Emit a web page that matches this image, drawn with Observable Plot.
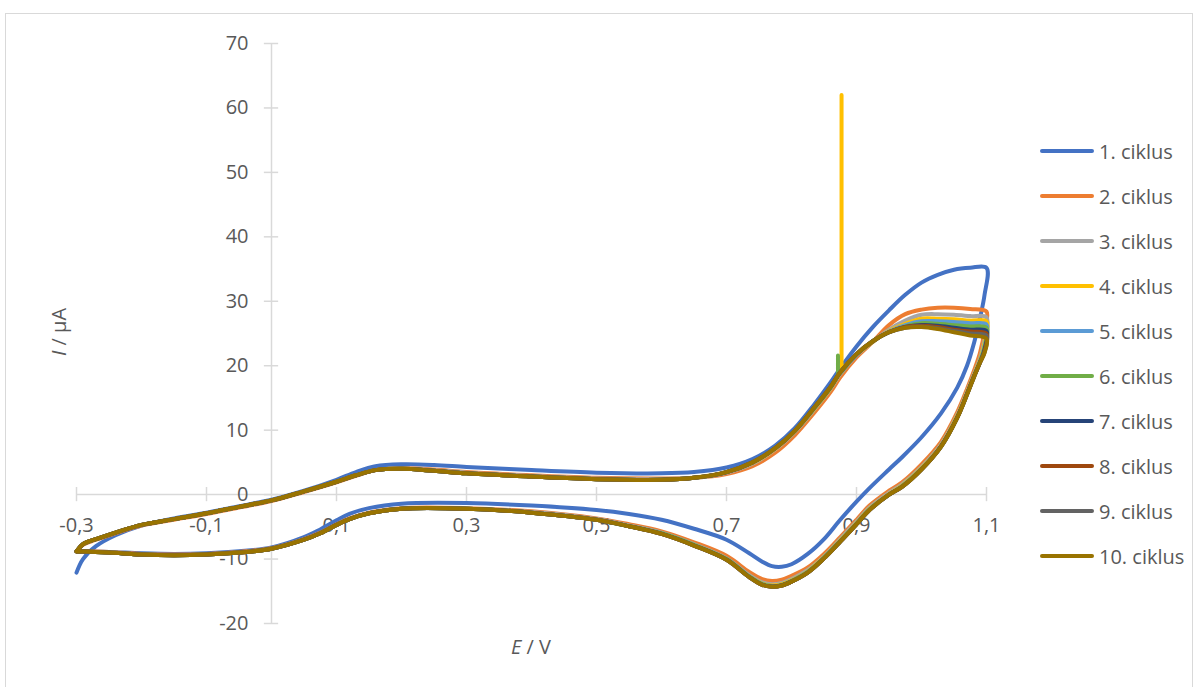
<!DOCTYPE html>
<html><head><meta charset="utf-8">
<script src="https://cdn.jsdelivr.net/npm/d3@7"></script>
<script src="https://cdn.jsdelivr.net/npm/@observablehq/plot@0.6"></script>
<style>
body{margin:0;background:#fff;font-family:"Open Sans",sans-serif;}
#wrap{position:relative;width:1199px;height:687px;overflow:hidden;background:#fff;}
#frame{position:absolute;left:5px;top:13px;width:1188px;height:700px;border:1px solid #d9d9d9;box-sizing:border-box;}
#chart{position:absolute;left:0;top:0;}
#legend{position:absolute;left:1040px;top:136px;}
.item{position:absolute;left:0;height:30px;display:flex;align-items:center;white-space:nowrap;color:#595959;font-size:20px;}
.sw{width:54px;height:3.5px;border-radius:2px;margin-right:5px;}
.ttl{position:absolute;color:#595959;font-size:20px;white-space:nowrap;transform:translate(-50%,-50%);}
</style></head>
<body>
<div id="wrap">
  <div id="frame"></div>
  <div id="chart"></div>
  <div id="legend"></div>
  <div class="ttl" style="left:58px;top:332px;transform:translate(-50%,-50%) rotate(-90deg);"><i>I</i> / µA</div>
  <div class="ttl" style="left:531px;top:646px;"><i>E</i> / V</div>
</div>
<script>
// Potential grid: forward sweep then backward sweep (V)
const forwardE = [-0.3,-0.29,-0.27,-0.24,-0.2,-0.15,-0.1,-0.05,0,0.05,0.1,0.13,0.16,0.2,0.25,0.3,0.4,0.5,0.6,0.65,0.7,0.74,0.775,0.805,0.835,0.86,0.875,0.9,0.925,0.95,0.975,1.0,1.025,1.05,1.075,1.1];
const backwardE = [1.097,1.09,1.081,1.07,1.055,1.03,1.0,0.97,0.95,0.92,0.9,0.875,0.85,0.825,0.8,0.785,0.77,0.755,0.735,0.7,0.65,0.6,0.55,0.5,0.4,0.3,0.2,0.15,0.12,0.1,0.075,0.05,0,-0.05,-0.1,-0.15,-0.2,-0.25,-0.3];

const cycleNames = ["1. ciklus","2. ciklus","3. ciklus","4. ciklus","5. ciklus","6. ciklus","7. ciklus","8. ciklus","9. ciklus","10. ciklus"];
const cycleColors = ["#4472C4","#ED7D31","#A5A5A5","#FFC000","#5B9BD5","#70AD47","#264478","#9E480E","#636363","#997300"];

// Current (µA): forward values then backward values
const c1F = [-12.1,-10.0,-8.0,-6.3,-4.8,-3.7,-2.8,-1.8,-0.8,0.6,2.3,3.5,4.4,4.7,4.6,4.3,3.8,3.4,3.3,3.5,4.2,5.5,7.6,10.3,14.0,17.4,19.6,23.0,26.0,28.6,31.0,32.9,34.1,34.9,35.2,35.2];
const c1B = [31.0,27.4,23.6,20.0,16.6,12.6,8.9,5.8,3.9,1.0,-1.1,-3.9,-6.9,-9.2,-10.8,-11.2,-11.1,-10.4,-9.1,-7.0,-5.3,-3.9,-3.0,-2.4,-1.7,-1.3,-1.4,-2.1,-3.0,-4.0,-5.4,-6.6,-8.2,-8.8,-9.1,-9.2,-9.1,-8.9,-8.8];
const c2F = [-8.8,-7.8,-7.0,-6.0,-4.8,-3.9,-3.0,-2.0,-1.0,0.4,1.9,2.9,3.8,4.1,3.9,3.5,3.0,2.6,2.5,2.6,3.2,4.4,6.5,9.2,12.7,15.9,18.2,21.3,23.7,26.3,28.0,28.7,29.0,29.0,28.8,28.4];
const c2B = [25.5,22.0,19.3,16.4,12.8,8.2,4.7,1.9,0.6,-1.7,-3.9,-6.6,-9.2,-11.3,-12.6,-13.2,-13.4,-13.1,-12.0,-9.5,-7.4,-5.7,-4.6,-3.7,-2.6,-2.1,-2.1,-2.8,-3.7,-4.6,-5.9,-6.9,-8.3,-8.9,-9.2,-9.3,-9.2,-8.9,-8.8];
const c3F = [-8.8,-7.7,-6.9,-5.9,-4.7,-3.8,-2.9,-1.9,-0.9,0.5,2.0,3.0,3.8,4.0,3.8,3.4,2.9,2.5,2.4,2.6,3.4,4.8,7.0,9.7,13.2,16.4,18.7,21.6,23.7,25.6,27.0,27.9,28.0,27.9,27.7,27.5];
const c3B = [24.0,21.2,18.8,16.0,12.4,7.8,4.3,1.6,0.3,-2.0,-4.2,-6.9,-9.6,-11.7,-13.1,-13.7,-13.9,-13.6,-12.5,-9.9,-7.7,-5.9,-4.8,-3.8,-2.7,-2.2,-2.2,-2.9,-3.8,-4.7,-6.0,-7.0,-8.4,-9.0,-9.3,-9.4,-9.3,-9.0,-8.8];
const c4F = [-8.8,-7.7,-6.9,-5.9,-4.7,-3.8,-2.9,-1.9,-0.9,0.5,2.0,3.0,3.8,4.0,3.7,3.3,2.8,2.4,2.3,2.6,3.5,4.9,7.1,9.8,13.3,16.5,18.9,21.7,23.7,25.4,26.5,27.3,27.3,27.2,27.0,26.9];
const c4B = [23.5,20.9,18.6,15.8,12.2,7.6,4.1,1.4,0.1,-2.2,-4.4,-7.1,-9.7,-11.9,-13.3,-13.9,-14.1,-13.8,-12.7,-10.0,-7.8,-6.0,-4.9,-3.9,-2.8,-2.2,-2.2,-2.9,-3.8,-4.7,-6.0,-7.0,-8.4,-9.0,-9.3,-9.4,-9.3,-9.0,-8.8];
const c5F = [-8.8,-7.7,-6.9,-5.9,-4.7,-3.8,-2.9,-1.9,-0.9,0.5,2.0,3.0,3.8,4.0,3.7,3.3,2.8,2.4,2.3,2.6,3.5,5.0,7.2,9.9,13.4,16.6,18.9,21.7,23.8,25.3,26.3,26.9,26.9,26.8,26.6,26.4];
const c5B = [23.0,20.7,18.4,15.6,12.0,7.5,4.0,1.3,0.0,-2.3,-4.5,-7.2,-9.8,-12.0,-13.4,-14.0,-14.2,-13.9,-12.7,-10.0,-7.8,-6.0,-4.9,-3.9,-2.8,-2.2,-2.2,-2.9,-3.8,-4.7,-6.0,-7.0,-8.4,-9.0,-9.3,-9.4,-9.3,-9.0,-8.8];
const c6F = [-8.8,-7.7,-6.9,-5.9,-4.7,-3.8,-2.9,-1.9,-0.9,0.5,2.0,3.0,3.8,4.0,3.7,3.3,2.8,2.4,2.3,2.6,3.5,5.0,7.2,9.9,13.4,16.6,18.9,21.8,23.8,25.2,26.1,26.6,26.5,26.3,26.1,25.9];
const c6B = [22.8,20.6,18.4,15.6,12.0,7.5,4.0,1.3,0.0,-2.3,-4.5,-7.2,-9.8,-12.0,-13.4,-14.0,-14.2,-13.9,-12.7,-10.0,-7.8,-6.0,-4.9,-3.9,-2.8,-2.2,-2.2,-2.9,-3.8,-4.7,-6.0,-7.0,-8.4,-9.0,-9.3,-9.4,-9.3,-9.0,-8.8];
const c7F = [-8.8,-7.7,-6.9,-5.9,-4.7,-3.8,-2.9,-1.9,-0.9,0.5,2.0,3.0,3.8,4.0,3.7,3.3,2.8,2.4,2.3,2.6,3.5,5.0,7.2,9.9,13.5,16.7,19.0,21.8,23.8,25.2,26.0,26.3,26.2,25.9,25.6,25.4];
const c7B = [22.5,20.5,18.4,15.6,12.0,7.5,3.9,1.2,0.0,-2.4,-4.6,-7.3,-9.9,-12.1,-13.5,-14.1,-14.3,-14.0,-12.8,-10.1,-7.9,-6.1,-4.9,-3.9,-2.8,-2.2,-2.2,-2.9,-3.8,-4.7,-6.0,-7.0,-8.4,-9.0,-9.3,-9.4,-9.3,-9.0,-8.8];
const c8F = [-8.8,-7.7,-6.9,-5.9,-4.7,-3.8,-2.9,-1.9,-0.9,0.5,2.0,3.0,3.8,4.0,3.7,3.3,2.8,2.4,2.3,2.6,3.5,5.0,7.2,9.9,13.5,16.7,19.0,21.8,23.8,25.2,26.0,26.2,26.0,25.6,25.3,25.0];
const c8B = [22.3,20.5,18.4,15.6,12.0,7.5,3.9,1.2,0.0,-2.4,-4.6,-7.3,-9.9,-12.1,-13.5,-14.1,-14.3,-14.0,-12.8,-10.1,-7.9,-6.1,-4.9,-3.9,-2.8,-2.2,-2.2,-2.9,-3.8,-4.7,-6.0,-7.0,-8.4,-9.0,-9.3,-9.4,-9.3,-9.0,-8.8];
const c9F = [-8.8,-7.7,-6.9,-5.9,-4.7,-3.8,-2.9,-1.9,-0.9,0.5,2.0,3.0,3.8,4.0,3.7,3.3,2.8,2.4,2.3,2.6,3.5,5.0,7.2,9.9,13.5,16.7,19.0,21.8,23.8,25.2,25.9,26.1,25.8,25.4,25.0,24.7];
const c9B = [22.1,20.5,18.3,15.5,11.9,7.4,3.9,1.2,0.0,-2.4,-4.6,-7.3,-9.9,-12.1,-13.5,-14.1,-14.3,-14.0,-12.8,-10.1,-7.9,-6.1,-4.9,-3.9,-2.8,-2.2,-2.2,-2.9,-3.8,-4.7,-6.0,-7.0,-8.4,-9.0,-9.3,-9.4,-9.3,-9.0,-8.8];
const c10F = [-8.8,-7.7,-6.9,-5.9,-4.7,-3.8,-2.9,-1.9,-0.9,0.5,2.0,3.0,3.8,4.0,3.7,3.3,2.8,2.4,2.3,2.6,3.5,5.0,7.2,9.9,13.5,16.7,19.0,21.8,23.8,25.2,25.9,26.0,25.7,25.2,24.7,24.2];
const c10B = [22.0,20.5,18.3,15.5,11.9,7.4,3.9,1.2,0.0,-2.4,-4.6,-7.3,-9.9,-12.1,-13.5,-14.1,-14.3,-14.0,-12.8,-10.1,-7.9,-6.1,-4.9,-3.9,-2.8,-2.2,-2.2,-2.9,-3.8,-4.7,-6.0,-7.0,-8.4,-9.0,-9.3,-9.4,-9.3,-9.0,-8.8];

// Current spikes (cycle 4 large, cycle 6 small), inserted in the forward sweep
const spike4E = [0.877,0.877,0.877,0.877,0.877,0.877];
const spike4I = [19.2,19.2,62.0,62.0,19.4,19.4];
const spike6E = [0.8715,0.8715,0.8715,0.8715,0.8715,0.8715];
const spike6I = [18.6,18.6,21.6,21.6,18.7,18.7];

const xTicks = [-0.3,-0.1,0.1,0.3,0.5,0.7,0.9,1.1];
const xTickLabels = ["-0,3","-0,1","0,1","0,3","0,5","0,7","0,9","1,1"];
const yTicks = [-20,-10,0,10,20,30,40,50,60,70];
const yTickLabels = ["-20","-10","0","10","20","30","40","50","60","70"];

const forwardSets = [c1F,c2F,c3F,c4F,c5F,c6F,c7F,c8F,c9F,c10F];
const backwardSets = [c1B,c2B,c3B,c4B,c5B,c6B,c7B,c8B,c9B,c10B];

function buildRows(k) {
  const rows = [];
  forwardE.forEach((e, j) => {
    if (k === 5 && e === 0.875) spike6E.forEach((se, s) => rows.push({E: se, I: spike6I[s]}));
    rows.push({E: e, I: forwardSets[k][j]});
    if (k === 3 && e === 0.875) spike4E.forEach((se, s) => rows.push({E: se, I: spike4I[s]}));
  });
  backwardE.forEach((e, j) => rows.push({E: e, I: backwardSets[k][j]}));
  return rows;
}

const gridColor = "#d9d9d9";
const textColor = "#595959";

const marks = [
  Plot.ruleY([0], {x1: -0.3, x2: 1.1, stroke: gridColor, strokeWidth: 1.5}),
  Plot.ruleX([0], {y1: -20, y2: 70, stroke: gridColor, strokeWidth: 1.5}),
  Plot.ruleX(xTicks, {x: d => d, y1: -1.1, y2: 1.1, stroke: gridColor, strokeWidth: 1.5}),
  Plot.ruleY(yTicks, {y: d => d, x1: -0.011, x2: 0.011, stroke: gridColor, strokeWidth: 1.5}),
  Plot.text(xTicks, {x: d => d, y: 0, text: (d, i) => xTickLabels[i], dy: 31, fill: textColor, fontSize: 20}),
  Plot.text(yTicks, {x: 0, y: d => d, text: (d, i) => yTickLabels[i], dx: -23, textAnchor: "end", fill: textColor, fontSize: 20}),
  ...cycleNames.map((name, k) => Plot.line(buildRows(k), {
    x: "E", y: "I", stroke: cycleColors[k], strokeWidth: 4,
    curve: "catmull-rom", strokeLinejoin: "round", strokeLinecap: "round"
  }))
];

const chart = Plot.plot({
  width: 1199, height: 687,
  marginLeft: 76, marginRight: 213, marginTop: 43, marginBottom: 64,
  x: {domain: [-0.3, 1.1], axis: null},
  y: {domain: [-20, 70], axis: null},
  style: {background: "transparent", fontFamily: "'Open Sans', sans-serif"},
  marks
});
document.getElementById("chart").appendChild(chart);

const legend = document.getElementById("legend");
cycleNames.forEach((name, k) => {
  const item = document.createElement("div");
  item.className = "item";
  item.style.top = (k * 45) + "px";
  const sw = document.createElement("div");
  sw.className = "sw";
  sw.style.background = cycleColors[k];
  const t = document.createElement("span");
  t.textContent = name;
  item.appendChild(sw); item.appendChild(t);
  legend.appendChild(item);
});
</script>
</body></html>
